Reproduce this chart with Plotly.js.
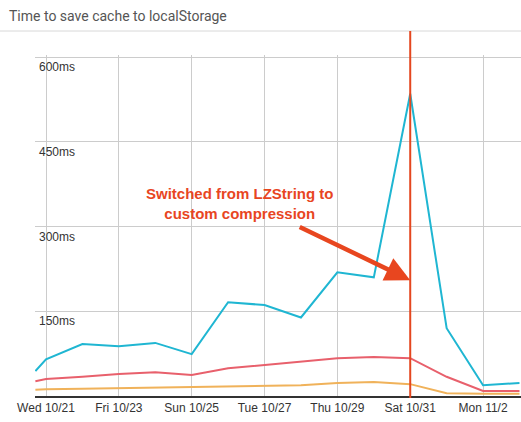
<!DOCTYPE html>
<html>
<head>
<meta charset="utf-8">
<script src="https://cdn.plot.ly/plotly-3.0.1.min.js"></script>
<style>html,body{margin:0;padding:0;background:#fff;}#chart{width:521px;height:422px;}</style>
</head>
<body>
<div id="chart"></div>
<script>
var dates = ['2015-10-20 17:00','2015-10-21','2015-10-22','2015-10-23','2015-10-24','2015-10-25','2015-10-26','2015-10-27','2015-10-28','2015-10-29','2015-10-30','2015-10-31','2015-11-01','2015-11-02','2015-11-03'];
var seriesCyan   = [44, 65, 92, 88, 94, 74, 166, 161, 139, 219, 210, 535, 120, 19, 23];
var seriesRed    = [26, 30, 34, 39, 42, 37, 49, 55, 62, 67, 69, 67, 34, 9, 9];
var seriesOrange = [11, 12, 13, 14, 15, 16, 18, 19, 19, 23, 25, 21, 5, 4, 4];
var xTickVals = ['2015-10-21','2015-10-23','2015-10-25','2015-10-27','2015-10-29','2015-10-31','2015-11-02'];
var xTickText = ['Wed 10/21','Fri 10/23','Sun 10/25','Tue 10/27','Thu 10/29','Sat 10/31','Mon 11/2'];
var yTickVals = [150, 300, 450, 600];
var yTickText = ['150ms', '300ms', '450ms', '600ms'];
var markerDate = '2015-10-31';
var noteText = 'Switched from LZString to<br>custom compression';
var chartTitle = 'Time to save cache to localStorage';

var traces = [
  {x: dates, y: seriesOrange, type: 'scatter', mode: 'lines', line: {color: '#f0b25a', width: 2}, hoverinfo: 'skip'},
  {x: dates, y: seriesRed, type: 'scatter', mode: 'lines', line: {color: '#e8606c', width: 2}, hoverinfo: 'skip'},
  {x: dates, y: seriesCyan, type: 'scatter', mode: 'lines', line: {color: '#1fb6d2', width: 2}, hoverinfo: 'skip'}
];

var accent = '#e8461f';
var plotH = 341;
var annotations = [
  {xref: 'paper', yref: 'paper', x: (240-35)/486, y: (396-203.5)/plotH, text: noteText, showarrow: false, xanchor: 'center', yanchor: 'middle',
   align: 'center', font: {family: 'Liberation Sans, Arial, sans-serif', size: 15, color: accent, weight: 'bold'}},
  {xref: 'x', yref: 'y', x: markerDate, y: 205, ax: -112, ay: -54, text: '', showarrow: true, arrowhead: 2, arrowsize: 1.1, arrowwidth: 4.5,
   arrowcolor: accent, standoff: 0}
];
yTickVals.forEach(function(v, i) {
  annotations.push({xref: 'paper', yref: 'y', x: 0, y: v, xanchor: 'left', yanchor: 'middle', xshift: 2, yshift: -10,
    text: yTickText[i], showarrow: false, font: {family: 'Liberation Sans, Arial, sans-serif', size: 12, color: '#333'}});
});

var layout = {
  width: 521, height: 422,
  margin: {l: 35, r: 0, t: 55, b: 26},
  paper_bgcolor: '#fff', plot_bgcolor: '#fff',
  showlegend: false,
  font: {family: 'Liberation Sans, Arial, sans-serif', size: 12, color: '#333'},
  title: {text: chartTitle, xref: 'container', yref: 'container', x: 9/521, xanchor: 'left', y: 1 - 16/422, yanchor: 'middle',
          font: {family: 'Roboto, sans-serif', size: 14, color: '#555'}},
  xaxis: {type: 'date', range: ['2015-10-20 16:45', '2015-11-03 01:00'], tickmode: 'array', tickvals: xTickVals, ticktext: xTickText,
          showgrid: true, gridcolor: '#cccccc', gridwidth: 1, showline: true, linecolor: '#333', linewidth: 1.5, ticks: '', zeroline: false,
          ticklabeloverflow: 'allow', tickfont: {size: 12, color: '#333'}},
  yaxis: {range: [0, 600 * 341 / 339], tickmode: 'array', tickvals: yTickVals, ticktext: yTickText, showticklabels: false,
          showgrid: true, gridcolor: '#cccccc', gridwidth: 1, showline: false, zeroline: false, ticks: ''},
  shapes: [
    {type: 'line', xref: 'paper', yref: 'paper', x0: -35/486, x1: 1, y0: (396-31)/plotH, y1: (396-31)/plotH, line: {color: '#d8d8d8', width: 1}},
    {type: 'line', xref: 'x', yref: 'paper', x0: markerDate, x1: markerDate, y0: -0.006, y1: (396-31)/plotH, line: {color: '#e4471f', width: 2}}
  ],
  annotations: annotations
};
Plotly.newPlot('chart', traces, layout, {displayModeBar: false, staticPlot: true});
</script>
</body>
</html>
